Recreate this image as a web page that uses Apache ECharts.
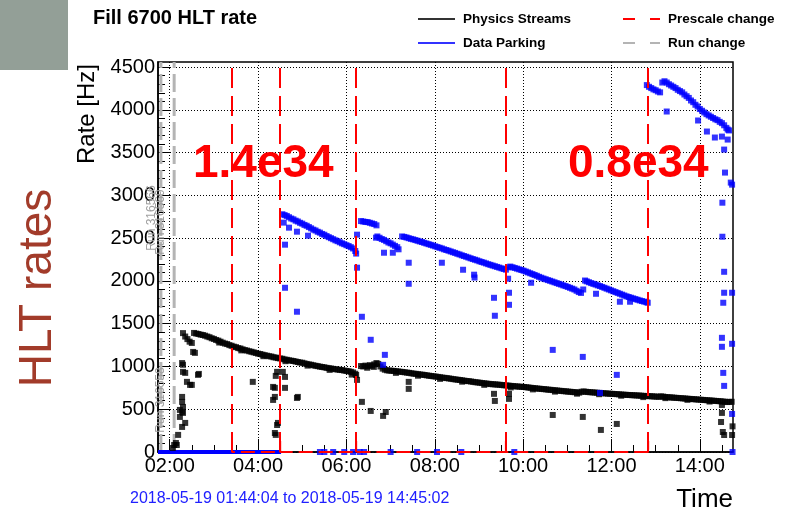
<!DOCTYPE html>
<html lang="en" style="height: 100%">
<head>
  <meta charset="utf-8">
</head>
<body style="height: 100%; margin: 0">
  <div id="container" style="width: 788px; height: 519px"></div>

  <script type="text/javascript" src="https://fastly.jsdelivr.net/npm/echarts@6/dist/echarts.min.js"></script>

  <script type="text/javascript">
    // fill 6700, times in hours of the day, rates in Hz
    const fillDate = '2018-05-19';
    const startTime = '01:44:04';
    const endTime = '14:45:02';
    const rateMax = 4560;
    const hourTicks = [2, 4, 6, 8, 10, 12, 14];
    const rateTicks = [0, 500, 1000, 1500, 2000, 2500, 3000, 3500, 4000, 4500];
    const lumiLabels = ['1.4e34', '0.8e34'];
    const runLabels = ['Run 316566', 'Run 316569', 'Run 316558'];

    const prescaleTimes = [3.41, 4.50, 6.22, 9.61, 12.83];
    const runChangeTimes = [1.80, 2.10];
    const prescaleFloor = [
      [3.41, 130], [3.41, 0], [4.50, 0], [4.50, 130], [4.50, 0], [6.22, 0], [6.22, 130], [6.22, 0],
      [9.61, 0], [9.61, 130], [9.61, 0], [12.83, 0], [12.83, 130], [12.83, 0]
    ];

    const physicsBand = [
      [2.55,1392],[2.60,1385],[2.65,1380],[2.70,1372],[2.75,1368],[2.80,1360],[2.85,1350],[2.90,1342],[2.95,1330],
      [3.00,1322],[3.05,1310],[3.10,1302],[3.15,1290],[3.20,1278],[3.25,1268],[3.30,1262],[3.35,1250],[3.40,1242],
      [3.45,1232],[3.50,1226],[3.55,1215],[3.60,1210],[3.65,1200],[3.70,1192],[3.75,1186],[3.80,1178],[3.85,1172],
      [3.90,1165],[3.95,1158],[4.00,1150],[4.05,1146],[4.10,1138],[4.15,1132],[4.20,1126],[4.25,1120],[4.30,1116],
      [4.35,1108],[4.40,1104],[4.45,1098],[4.50,1094],[4.55,1090],[4.60,1082],[4.65,1078],[4.70,1072],[4.75,1068],
      [4.80,1064],[4.85,1058],[4.90,1052],[4.95,1046],[5.00,1044],[5.05,1036],[5.10,1030],[5.15,1024],[5.20,1020],
      [5.25,1014],[5.30,1008],[5.35,1004],[5.40,998],[5.45,994],[5.50,990],[5.55,984],[5.60,980],[5.65,976],
      [5.70,972],[5.75,968],[5.80,964],[5.85,960],[5.90,958],[5.95,952],[6.00,948],[6.05,944],[6.10,938],
      [6.15,930],[6.20,915],
      [6.33,1005],[6.38,1000],[6.43,1010],[6.48,1002],[6.53,1015],[6.58,1008],[6.63,1025],[6.68,1040],[6.72,1030],
      [6.77,1000],[6.82,975],[6.87,962],[6.92,955],[6.97,952],[7.02,950],[7.07,948],[7.12,944],[7.17,942],
      [7.22,938],[7.27,936],[7.32,932],[7.37,928],[7.42,925],[7.47,920],[7.52,916],[7.57,914],[7.62,910],
      [7.67,906],[7.72,904],[7.77,900],[7.82,896],[7.87,892],[7.92,889],[7.97,885],[8.02,882],[8.07,878],
      [8.12,874],[8.17,870],[8.22,867],[8.27,864],[8.32,860],[8.37,856],[8.42,852],[8.47,848],[8.52,845],
      [8.57,842],[8.62,838],[8.67,834],[8.72,830],[8.77,828],[8.82,824],[8.87,820],[8.92,816],[8.97,813],
      [9.02,810],[9.07,806],[9.12,803],[9.17,800],[9.22,797],[9.27,794],[9.32,792],[9.37,790],[9.42,788],
      [9.47,786],[9.52,783],[9.57,780],[9.62,778],[9.67,776],[9.72,773],[9.77,771],[9.82,768],[9.87,766],
      [9.92,764],[9.97,762],[10.02,760],[10.07,757],[10.12,754],[10.17,751],[10.22,748],[10.27,745],[10.32,742],
      [10.37,740],[10.42,737],[10.47,735],[10.52,732],[10.57,729],[10.62,727],[10.67,724],[10.72,721],[10.77,719],
      [10.82,716],[10.87,714],[10.92,711],[10.97,709],[11.02,706],[11.07,704],[11.12,701],[11.17,699],[11.22,696],
      [11.27,694],[11.32,704],[11.37,708],[11.42,704],[11.47,701],[11.52,699],[11.57,697],[11.62,695],[11.67,693],
      [11.72,691],[11.77,689],[11.82,687],[11.87,685],[11.92,683],[11.97,681],[12.02,680],[12.07,678],[12.12,676],
      [12.17,674],[12.22,672],[12.27,670],[12.32,669],[12.37,667],[12.42,666],[12.47,664],[12.52,663],[12.57,661],
      [12.62,660],[12.67,658],[12.72,657],[12.77,655],[12.82,654],[12.87,652],[12.92,651],[12.97,649],[13.02,647],
      [13.07,646],[13.12,650],[13.17,648],[13.22,643],[13.27,641],[13.32,639],[13.37,637],[13.42,635],[13.47,633],
      [13.52,631],[13.57,629],[13.62,627],[13.67,625],[13.72,623],[13.77,621],[13.82,619],[13.87,617],[13.92,615],
      [13.97,613],[14.02,611],[14.07,609],[14.12,607],[14.17,605],[14.22,603],[14.27,601],[14.32,599],[14.37,597],
      [14.42,595],[14.47,593],[14.52,590],[14.57,588],[14.62,584],[14.67,586],[14.72,587]
    ];
    const physicsStray = [
      [2.07,47],[2.10,82],[2.14,105],[2.16,82],[2.19,200],[2.23,410],[2.23,492],[2.28,293],[2.28,470],[2.28,586],
      [2.28,644],[2.30,457],[2.30,527],[2.35,340],[2.28,1040],[2.30,1020],[2.35,925],[2.39,820],[2.46,785],[2.50,785],
      [2.30,937],[2.53,1170],[2.57,1159],[2.64,902],[2.66,913],[2.30,1390],[2.35,1350],[2.40,1320],[2.45,1290],
      [2.50,1275],[3.88,820],[4.34,761],[4.34,609],[4.38,750],[4.38,644],[4.38,222],[4.40,200],[4.43,316],[4.45,340],
      [4.40,890],[4.43,937],[4.56,937],[4.61,878],[4.61,750],[4.88,632],[4.90,644],[6.24,843],[6.22,900],[6.35,586],
      [6.55,480],[6.83,422],[6.89,468],[7.41,820],[7.41,738],[9.34,680],[9.36,597],[9.68,680],[9.68,621],[10.67,433],
      [11.35,410],[11.76,258],[12.12,328],[14.50,550],[14.50,457],[14.48,351],[14.52,234],[14.55,199],[14.73,199],
      [14.74,300],[3.12,1280],[3.62,1188],[4.12,1120],[4.62,1062],[5.12,1010],[5.62,960],[6.12,905],[6.47,985],
      [6.62,995],[7.12,925],[7.62,892],[8.12,855],[8.62,822],[9.12,785],[9.72,755],[10.22,732],[10.72,706],
      [11.22,682],[11.72,676],[12.22,658],[12.72,642],[13.22,630],[13.72,610],[14.22,590]
    ];

    const parkingBand = [
      [4.55,2780],[4.60,2770],[4.65,2760],[4.70,2745],[4.75,2730],[4.80,2720],[4.85,2705],[4.90,2695],[4.95,2680],
      [5.00,2670],[5.05,2655],[5.10,2645],[5.15,2630],[5.20,2615],[5.25,2600],[5.30,2590],[5.35,2575],[5.40,2565],
      [5.45,2550],[5.50,2540],[5.55,2525],[5.60,2512],[5.65,2500],[5.70,2488],[5.75,2475],[5.80,2465],[5.85,2452],
      [5.90,2440],[5.95,2430],[6.00,2418],[6.05,2408],[6.10,2395],[6.15,2380],[6.20,2350],[6.22,2320],
      [6.33,2700],[6.38,2695],[6.43,2690],[6.48,2688],[6.53,2680],[6.58,2672],[6.63,2665],[6.68,2650],
      [6.70,2520],[6.75,2505],[6.80,2490],[6.85,2480],[6.90,2465],[6.95,2450],[7.00,2440],[7.05,2425],[7.10,2410],
      [7.15,2395],[7.18,2370],
      [7.26,2520],[7.31,2515],[7.36,2508],[7.41,2500],[7.46,2492],[7.51,2486],[7.56,2478],[7.61,2470],[7.66,2462],
      [7.71,2455],[7.76,2446],[7.81,2438],[7.86,2430],[7.91,2422],[7.96,2414],[8.01,2405],[8.06,2396],[8.11,2388],
      [8.16,2380],[8.21,2370],[8.26,2362],[8.31,2354],[8.36,2345],[8.41,2336],[8.46,2328],[8.51,2318],[8.56,2310],
      [8.61,2300],[8.66,2292],[8.71,2283],[8.76,2274],[8.81,2265],[8.86,2256],[8.91,2248],[8.96,2240],[9.01,2230],
      [9.06,2222],[9.11,2214],[9.16,2205],[9.21,2196],[9.26,2188],[9.31,2180],[9.36,2172],[9.41,2164],[9.46,2156],
      [9.51,2148],[9.56,2140],[9.61,2132],[9.66,2160],[9.71,2168],[9.76,2160],[9.81,2152],[9.86,2144],[9.91,2136],
      [9.96,2128],[10.01,2120],[10.06,2110],[10.11,2100],[10.16,2090],[10.21,2080],[10.26,2070],[10.31,2060],
      [10.36,2048],[10.41,2038],[10.46,2028],[10.51,2020],[10.56,2010],[10.61,2002],[10.66,1993],[10.71,1984],
      [10.76,1975],[10.81,1966],[10.86,1958],[10.91,1948],[10.96,1940],[11.01,1930],[11.06,1920],[11.11,1910],
      [11.16,1900],[11.21,1885],[11.26,1870],[11.31,1860],[11.36,1900],[11.40,2005],[11.44,1995],[11.49,1985],
      [11.54,1975],[11.59,1966],[11.64,1958],[11.69,1948],[11.74,1940],[11.79,1930],[11.84,1920],[11.89,1910],
      [11.94,1900],[11.99,1890],[12.04,1880],[12.09,1870],[12.14,1860],[12.19,1850],[12.24,1840],[12.29,1830],
      [12.34,1820],[12.39,1812],[12.44,1804],[12.49,1796],[12.54,1788],[12.59,1780],[12.64,1772],[12.69,1765],
      [12.74,1758],[12.79,1752],[12.82,1745],
      [12.80,4290],[12.85,4270],[12.90,4255],[12.95,4240],[13.00,4230],[13.05,4215],[13.10,4205],[13.15,4320],
      [13.20,4335],[13.25,4320],[13.30,4300],[13.35,4285],[13.40,4270],[13.45,4255],[13.50,4235],[13.55,4220],
      [13.60,4205],[13.65,4180],[13.70,4160],[13.75,4140],[13.80,4110],[13.85,4090],[13.90,4060],[13.95,4040],
      [14.00,4010],[14.05,3990],[14.10,3970],[14.15,3950],[14.20,3935],[14.25,3920],[14.30,3905],[14.35,3890],
      [14.40,3880],[14.45,3860],[14.50,3845],[14.55,3820],[14.60,3790],[14.63,3770],[14.66,3760]
    ];
    const parkingStray = [
      [4.58,2682],[4.70,2623],[4.88,2576],[5.13,2529],[4.61,2424],[4.61,1920],[4.88,1640],[6.24,2541],[6.24,2155],
      [6.35,1581],[6.55,1312],[6.87,1136],[6.83,1019],[6.85,2330],[7.05,2330],[6.67,2506],[7.41,2213],[7.41,1967],
      [8.16,2213],[8.64,2131],[8.89,2073],[8.90,2040],[9.34,1803],[9.36,1593],[9.68,1862],[9.68,1721],[9.66,2026],
      [10.18,1979],[10.67,1194],[11.35,1112],[11.65,1850],[12.19,1757],[12.42,1757],[12.12,902],[11.74,691],
      [13.25,3981],[13.96,3876],[14.16,3747],[14.34,3677],[14.50,3688],[14.63,3653],[14.55,3536],[14.57,3267],
      [14.73,3126],[14.70,3150],[14.51,2915],[14.51,2517],[14.55,2107],[14.55,1862],[14.53,1745],[14.73,1862],
      [14.50,1335],[14.50,1230],[14.53,925],[14.55,773],[14.73,1265],[14.73,445],[14.74,0],
      [5.40,0],[5.50,0],[5.70,0],[5.95,0],[6.15,0],[6.30,0],[6.40,0],[7.00,0],[7.60,0],[8.05,0],[8.60,0],[9.80,0]
    ];
    const parkingOffUntil = 4.52;

    function toHours(s) {
      const p = s.split(':').map(Number);
      return p[0] + p[1] / 60 + (p[2] || 0) / 3600;
    }
    const tMin = toHours(startTime);
    const tMax = toHours(endTime);

    const minorHours = [];
    for (let h = 2; h < tMax; h += 0.5) {
      if (h % 2 !== 0) minorHours.push(h);
    }
    const minorRates = [];
    for (let r = 100; r < rateMax; r += 100) {
      if (r % 500 !== 0) minorRates.push(r);
    }

    const font = '"Liberation Sans", Arial, Helvetica, sans-serif';
    const dotted = { color: '#000', width: 1, type: [1, 2] };

    var dom = document.getElementById('container');
    var myChart = echarts.init(dom, null, { renderer: 'canvas' });

    var option = {
      animation: false,
      backgroundColor: '#fff',
      textStyle: { fontFamily: font },
      grid: {
        left: 158, right: 55, top: 62, bottom: 67,
        show: true, borderColor: '#000', borderWidth: 1.5,
        outerBoundsMode: 'none'
      },
      legend: [
        {
          left: 413, top: 7, orient: 'vertical', itemWidth: 37, itemHeight: 2, itemGap: 10,
          icon: 'rect', selectedMode: false,
          textStyle: { color: '#000', fontWeight: 'bold', fontSize: 13.5, fontFamily: font, padding: [0, 0, 0, 3] },
          data: ['Physics Streams', 'Data Parking']
        },
        {
          left: 618, top: 7, orient: 'vertical', itemWidth: 37, itemHeight: 2, itemGap: 10,
          icon: 'path://M0,0h12v2h-12zM27,0h10v2h-10z', selectedMode: false,
          textStyle: { color: '#000', fontWeight: 'bold', fontSize: 13.5, fontFamily: font, padding: [0, 0, 0, 3] },
          data: ['Prescale change', 'Run change']
        }
      ],
      xAxis: [
        {
          type: 'value', min: tMin, max: tMax, splitNumber: 6,
          axisLine: { lineStyle: { color: '#000', width: 1.5 } },
          axisTick: { inside: true, length: 13, customValues: hourTicks, lineStyle: { color: '#000', width: 1 } },
          axisLabel: {
            customValues: hourTicks, color: '#000', fontSize: 20, margin: 4, fontFamily: font,
            formatter: v => (v < 10 ? '0' : '') + Math.round(v) + ':00'
          },
          splitLine: { show: true, lineStyle: dotted }
        },
        {
          type: 'value', min: tMin, max: tMax, position: 'bottom',
          axisLine: { show: false },
          axisTick: { inside: true, length: 7, customValues: minorHours, lineStyle: { color: '#000', width: 1 } },
          axisLabel: { show: false },
          splitLine: { show: false }
        }
      ],
      yAxis: [
        {
          type: 'value', min: 0, max: rateMax, interval: 500,
          axisLine: { show: true, lineStyle: { color: '#000', width: 1.5 } },
          axisTick: { show: true, inside: true, length: 12, customValues: rateTicks, lineStyle: { color: '#000', width: 1 } },
          axisLabel: {
            customValues: rateTicks, color: '#000', fontSize: 20, margin: 3, fontFamily: font,
            formatter: v => String(v)
          },
          splitLine: { show: true, lineStyle: dotted }
        },
        {
          type: 'value', min: 0, max: rateMax, position: 'left',
          axisLine: { show: false },
          axisTick: { show: true, inside: true, length: 7, customValues: minorRates, lineStyle: { color: '#000', width: 1 } },
          axisLabel: { show: false },
          splitLine: { show: false }
        }
      ],
      series: [
        {
          name: 'Run change',
          type: 'line',
          color: '#b4b4b4',
          symbol: 'none',
          silent: true,
          z: 1,
          lineStyle: { color: '#b4b4b4', width: 3, type: [18, 6] },
          data: runChangeTimes.flatMap(t => [[t, 0], [t, rateMax], [t, '-']])
        },
        {
          name: 'Physics Streams',
          type: 'scatter',
          color: '#000',
          symbol: 'rect',
          symbolSize: 6,
          z: 3,
          data: physicsBand.concat(physicsStray)
        },
        {
          name: 'Data Parking',
          type: 'scatter',
          color: '#0000ff',
          symbol: 'rect',
          symbolSize: 6,
          z: 3,
          data: parkingBand.concat(parkingStray)
        },
        {
          name: 'Data Parking',
          type: 'line',
          color: '#0000ff',
          symbol: 'none',
          clip: false,
          z: 3,
          lineStyle: { color: '#0000ff', width: 4 },
          data: [[tMin, 0], [parkingOffUntil, 0]]
        },
        {
          name: 'Prescale change',
          type: 'line',
          color: '#ff0000',
          symbol: 'none',
          clip: false,
          z: 5,
          lineStyle: { color: '#ff0000', width: 2, type: [14, 6] },
          data: prescaleFloor,
          markLine: {
            silent: true,
            symbol: ['none', 'none'],
            label: { show: false },
            lineStyle: { color: '#ff0000', width: 2, type: [20, 8] },
            data: prescaleTimes.map(t => ({ xAxis: t }))
          }
        }
      ],
      graphic: [
        { type: 'rect', left: 0, top: 0, shape: { width: 68, height: 70 }, style: { fill: '#939f97' } },
        {
          type: 'text', x: 93, y: 18,
          style: { text: 'Fill 6700 HLT rate', fill: '#000', font: 'bold 20px ' + font, textVerticalAlign: 'middle' }
        },
        {
          type: 'text', x: 38, y: 288, rotation: Math.PI / 2,
          style: { text: 'HLT rates', fill: '#a23b2a', font: '46px ' + font, textAlign: 'center', textVerticalAlign: 'middle' }
        },
        {
          type: 'text', x: 87, y: 64, rotation: Math.PI / 2,
          style: { text: 'Rate [Hz]', fill: '#000', font: '24px ' + font, textAlign: 'right', textVerticalAlign: 'middle' }
        },
        {
          type: 'text', x: 152, y: 218, rotation: Math.PI / 2, z: 2,
          style: { text: runLabels[0], fill: '#a0a0a0', font: '12px ' + font, textAlign: 'center', textVerticalAlign: 'middle' }
        },
        {
          type: 'text', x: 161, y: 222, rotation: Math.PI / 2, z: 2,
          style: { text: runLabels[1], fill: '#a0a0a0', font: '12px ' + font, textAlign: 'center', textVerticalAlign: 'middle' }
        },
        {
          type: 'text', x: 161, y: 400, rotation: Math.PI / 2, z: 2,
          style: { text: runLabels[2], fill: '#a0a0a0', font: '12px ' + font, textAlign: 'center', textVerticalAlign: 'middle' }
        },
        {
          type: 'text', x: 193, y: 164, z: 10,
          style: { text: lumiLabels[0], fill: '#ff0000', font: 'bold 46px ' + font, textVerticalAlign: 'middle' }
        },
        {
          type: 'text', x: 568, y: 164, z: 10,
          style: { text: lumiLabels[1], fill: '#ff0000', font: 'bold 46px ' + font, textVerticalAlign: 'middle' }
        },
        {
          type: 'text', x: 130, y: 499,
          style: {
            text: fillDate + ' ' + startTime + ' to ' + fillDate + ' ' + endTime,
            fill: '#2020ff', font: '16px ' + font, textVerticalAlign: 'middle'
          }
        },
        {
          type: 'text', x: 733, y: 500,
          style: { text: 'Time', fill: '#000', font: '26px ' + font, textAlign: 'right', textVerticalAlign: 'middle' }
        }
      ]
    };

    myChart.setOption(option);
    window.addEventListener('resize', myChart.resize);
  </script>
</body>
</html>
